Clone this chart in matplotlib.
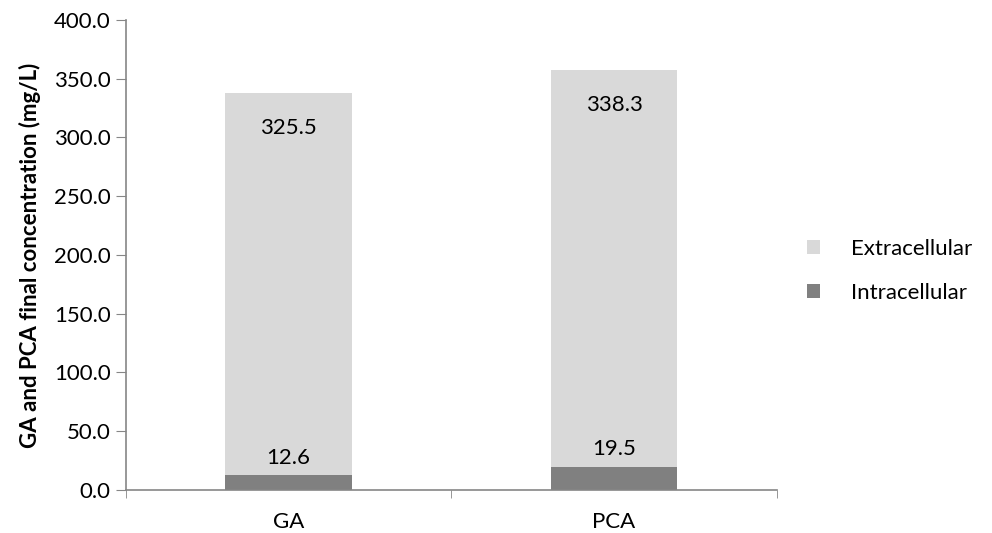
import matplotlib.pyplot as plt
import numpy as np

categories = ['GA', 'PCA']
intracellular = [12.6, 19.5]
extracellular = [325.5, 338.3]

plt.rcParams['font.family'] = ['Lato', 'DejaVu Sans']
fs = 16

fig = plt.figure(figsize=(9.92, 5.33), dpi=100)
ax = fig.add_axes([0.127, 0.0807, 0.656, 0.8818])

x = np.arange(len(categories))
w = 0.39
b1 = ax.bar(x, intracellular, w, color='#808080', label='Intracellular')
b2 = ax.bar(x, extracellular, w, bottom=intracellular, color='#d9d9d9', label='Extracellular')

for i in range(len(categories)):
    top = intracellular[i] + extracellular[i]
    ax.text(x[i], top - 30, f'{extracellular[i]:.1f}', ha='center', va='center', fontsize=fs)
    ax.text(x[i], intracellular[i] + 15, f'{intracellular[i]:.1f}', ha='center', va='center', fontsize=fs)

ax.set_xlim(-0.5, 1.5)
ax.set_ylim(0, 400)
ax.set_yticks(np.arange(0, 401, 50))
ax.set_yticklabels([f'{v:.1f}' for v in np.arange(0, 401, 50)], fontsize=fs)
ax.set_xticks(x)
ax.set_xticklabels(categories, fontsize=fs)
ax.tick_params(axis='x', length=0, pad=16)
ax.set_xticks([-0.5, 0.5, 1.5], minor=True)
ax.tick_params(axis='x', which='minor', length=6, color='#868686')
ax.tick_params(axis='y', length=7, color='#868686', pad=4)
ax.set_ylabel('GA and PCA final concentration (mg/L)', fontsize=fs, fontweight='bold', labelpad=9)

for s in ['top', 'right']:
    ax.spines[s].set_visible(False)
for s in ['left', 'bottom']:
    ax.spines[s].set_color('#868686')
    ax.spines[s].set_linewidth(1.2)

handles = [b2, b1]
fig.legend(handles, [h.get_label() for h in handles], loc='center left',
           bbox_to_anchor=(0.793, 0.492), frameon=False, fontsize=fs,
           handlelength=0.6, handleheight=0.6, labelspacing=1.1, handletextpad=1.4)

fig.savefig('out.png', dpi=100)
